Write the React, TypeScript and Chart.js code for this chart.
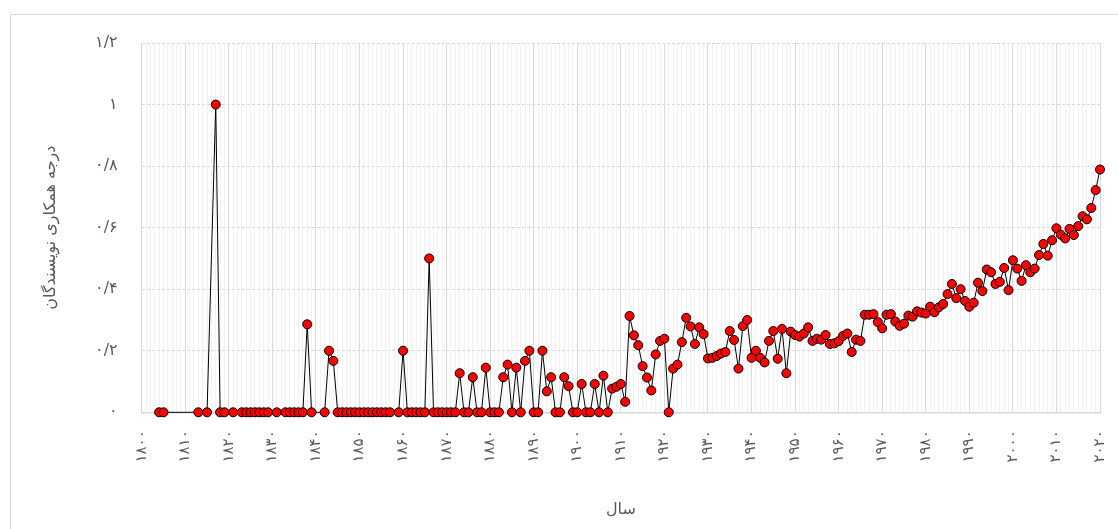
import { useEffect, useRef } from 'react';
import { Chart, registerables } from 'chart.js';

Chart.register(...registerables);

// Years (x) and collaboration degree (y)
const years: number[] = [
  1804, 1805, 1813, 1815, 1817, 1818, 1819, 1821,
  1823, 1824, 1825, 1826, 1827, 1828, 1829, 1831,
  1833, 1834, 1835, 1836, 1837, 1838, 1839,
  1842, 1843, 1844,
  1845, 1846, 1847, 1848, 1849, 1850, 1851, 1852, 1853, 1854, 1855, 1856, 1857,
  1859, 1860, 1861, 1862, 1863, 1864, 1865, 1866,
  1867, 1868, 1869, 1870, 1871, 1872,
  1873, 1874, 1875, 1876, 1877, 1878, 1879, 1880, 1881, 1882,
  1883, 1884, 1885, 1886, 1887, 1888, 1889, 1890, 1891, 1892,
  1893, 1894, 1895, 1896, 1897, 1898, 1899, 1900, 1901, 1902,
  1903, 1904, 1905, 1906, 1907, 1908, 1909, 1910, 1911, 1912,
  1913, 1914, 1915, 1916, 1917, 1918, 1919, 1920, 1921, 1922,
  1923, 1924, 1925, 1926, 1927, 1928, 1929, 1930, 1931, 1932,
  1933, 1934, 1935, 1936, 1937, 1938, 1939, 1940, 1941, 1942,
  1943, 1944, 1945, 1946, 1947, 1948, 1949, 1950, 1951, 1952,
  1953, 1954, 1955, 1956, 1957, 1958, 1959, 1960, 1961, 1962,
  1963, 1964, 1965, 1966, 1967, 1968, 1969, 1970, 1971, 1972,
  1973, 1974, 1975, 1976, 1977, 1978, 1979, 1980, 1981, 1982,
  1983, 1984, 1985, 1986, 1987, 1988, 1989, 1990, 1991, 1992,
  1993, 1994, 1995, 1996, 1997, 1998, 1999, 2000, 2001, 2002,
  2003, 2004, 2005, 2006, 2007, 2008, 2009, 2010, 2011, 2012,
  2013, 2014, 2015, 2016, 2017, 2018, 2019, 2020,
];

const values: number[] = [
  0, 0, 0, 0, 1, 0, 0, 0,
  0, 0, 0, 0, 0, 0, 0, 0,
  0, 0, 0, 0, 0, 0.286, 0,
  0, 0.2, 0.167,
  0, 0, 0, 0, 0, 0, 0, 0, 0, 0, 0, 0, 0,
  0, 0.2, 0, 0, 0, 0, 0, 0.5,
  0, 0, 0, 0, 0, 0,
  0.127, 0, 0, 0.114, 0, 0, 0.145, 0, 0, 0,
  0.114, 0.155, 0, 0.145, 0, 0.167, 0.2, 0, 0, 0.2,
  0.068, 0.114, 0, 0, 0.114, 0.085, 0, 0, 0.092, 0,
  0, 0.092, 0, 0.119, 0, 0.077, 0.083, 0.092, 0.034, 0.313,
  0.25, 0.218, 0.15, 0.113, 0.071, 0.188, 0.232, 0.239, 0, 0.142,
  0.155, 0.228, 0.307, 0.279, 0.222, 0.276, 0.254, 0.175, 0.177, 0.183,
  0.191, 0.196, 0.264, 0.235, 0.142, 0.28, 0.3, 0.177, 0.2, 0.177,
  0.162, 0.232, 0.264, 0.174, 0.271, 0.127, 0.262, 0.251, 0.246, 0.256,
  0.276, 0.232, 0.239, 0.236, 0.251, 0.222, 0.224, 0.231, 0.248, 0.256,
  0.196, 0.236, 0.232, 0.317, 0.317, 0.319, 0.293, 0.273, 0.317, 0.319,
  0.295, 0.281, 0.288, 0.314, 0.311, 0.328, 0.324, 0.321, 0.343, 0.325,
  0.341, 0.352, 0.384, 0.417, 0.371, 0.4, 0.362, 0.343, 0.356, 0.421,
  0.394, 0.464, 0.455, 0.417, 0.424, 0.469, 0.397, 0.494, 0.467, 0.427,
  0.478, 0.455, 0.467, 0.511, 0.547, 0.509, 0.559, 0.598, 0.577, 0.565,
  0.596, 0.576, 0.605, 0.637, 0.627, 0.664, 0.722, 0.789,
];

const xTitle = 'سال';
const yTitle = 'درجه همکاری نویسندگان';
const xMin = 1800;
const xMax = 2020;
const yMin = 0;
const yMax = 1.2;
const yStep = 0.2;

const FA_DIGITS = '۰۱۲۳۴۵۶۷۸۹';
const toFa = (s: string) =>
  s.replace(/[0-9]/g, (d) => FA_DIGITS[Number(d)]).replace('.', '/');

const FONT = "'DejaVu Sans', sans-serif";

export default function App() {
  const ref = useRef<HTMLCanvasElement>(null);

  useEffect(() => {
    if (!ref.current) return;
    const chart = new Chart(ref.current, {
      type: 'line',
      data: {
        datasets: [
          {
            data: years.map((x, i) => ({ x, y: values[i] })),
            borderColor: '#000000',
            borderWidth: 1,
            pointBackgroundColor: '#ff0000',
            pointBorderColor: '#000000',
            pointBorderWidth: 1,
            pointRadius: 4.5,
            tension: 0,
            clip: false as any,
          },
        ],
      },
      options: {
        animation: false,
        responsive: false,
        layout: { padding: { left: 0, right: 18, top: 43, bottom: 0 } },
        plugins: {
          legend: { display: false },
          tooltip: { enabled: false },
        },
        scales: {
          x: {
            type: 'linear',
            min: xMin,
            max: xMax,
            afterFit: (s: any) => {
              s.height = 116.7;
              s.paddingLeft = 0;
              s.paddingRight = 0;
            },
            ticks: {
              stepSize: 1,
              autoSkip: false,
              minRotation: 90,
              maxRotation: 90,
              padding: 18,
              color: '#595959',
              font: { family: FONT, size: 15 },
              callback: (v: any) =>
                Number(v) % 10 === 0 ? toFa(String(v)) : '',
            },
            grid: {
              drawTicks: false,
              lineWidth: 1,
              color: (ctx: any) =>
                ctx.tick && ctx.tick.value % 10 === 0 ? '#d9d9d9' : '#f2f2f2',
            },
            border: { display: true, color: '#d9d9d9', width: 1.5 },
            title: {
              display: true,
              text: xTitle,
              color: '#595959',
              font: { family: FONT, size: 16 },
              padding: { top: 0, bottom: 10 },
            },
          },
          y: {
            type: 'linear',
            min: yMin,
            max: yMax,
            afterFit: (s: any) => {
              s.width = 141.7;
              s.paddingTop = 0;
              s.paddingBottom = 0;
            },
            ticks: {
              stepSize: yStep,
              padding: 24,
              color: '#595959',
              font: { family: FONT, size: 16 },
              callback: (v: any) => toFa(String(Number(Number(v).toFixed(1)))),
            },
            grid: {
              drawTicks: false,
              color: '#d9d9d9',
              lineWidth: 1,
            },
            border: { display: false, dash: [3, 2] },
            title: {
              display: true,
              text: yTitle,
              color: '#595959',
              font: { family: FONT, size: 16 },
              padding: { top: 41, bottom: 0 },
            },
          },
        },
      },
    });
    return () => chart.destroy();
  }, []);

  return (
    <div
      style={{
        position: 'fixed',
        left: 0,
        top: 0,
        width: 1118,
        height: 529,
        overflow: 'hidden',
        background: '#ffffff',
      }}
    >
      <div
        style={{
          position: 'absolute',
          left: 10,
          top: 14,
          width: 1300,
          height: 700,
          border: '1px solid #d9d9d9',
        }}
      />
      <canvas
        ref={ref}
        width={1118}
        height={529}
        style={{ position: 'absolute', left: 0, top: 0, width: 1118, height: 529 }}
      />
    </div>
  );
}
